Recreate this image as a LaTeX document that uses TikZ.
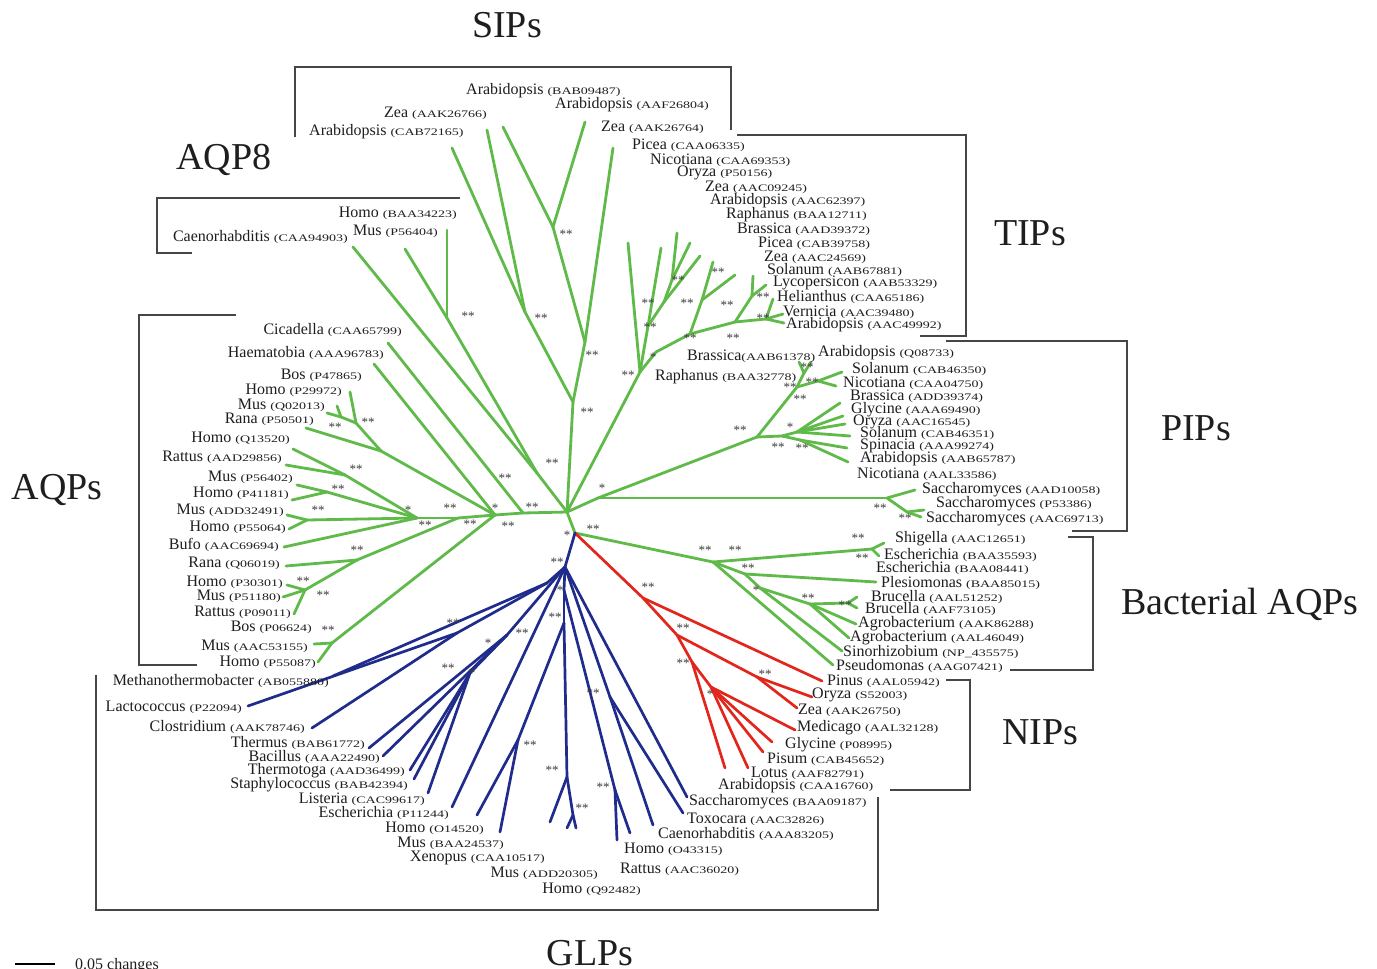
\documentclass[tikz,border=0pt]{standalone}
\usepackage{fontspec}
\setmainfont{Liberation Serif}
\newfontfamily\accf[FakeStretch=1.4]{Liberation Serif}
\newcommand{\acc}[1]{{\accf\fontsize{10}{10}\selectfont #1}}
\definecolor{tg}{RGB}{96,186,74}
\definecolor{tb}{RGB}{32,44,140}
\definecolor{tr}{RGB}{226,38,28}
\definecolor{brc}{RGB}{70,70,70}
\definecolor{txc}{RGB}{30,30,30}
\definecolor{bsc}{RGB}{60,60,60}
\begin{document}
\begin{tikzpicture}[x=1pt,y=-1pt,
  gl/.style={draw=tg,line width=2.8pt,line cap=round,line join=round},
  bl/.style={draw=tb,line width=2.7pt,line cap=round,line join=round},
  rd/.style={draw=tr,line width=2.7pt,line cap=round,line join=round},
  brk/.style={draw=brc,line width=1.6pt},
  lw/.style={anchor=west,inner sep=0pt,text=txc,font=\fontsize{16}{16}\selectfont},
  le/.style={anchor=east,inner sep=0pt,text=txc,font=\fontsize{16}{16}\selectfont},
  bs/.style={inner sep=0pt,text=bsc,font=\fontsize{13}{13}\selectfont},
  ttl/.style={inner sep=0pt,text=txc,font=\fontsize{38}{38}\selectfont}]
\fill[white] (0,0) rectangle (1377,969);
\useasboundingbox (0,0) rectangle (1377,969);

% ---------- coordinates: trunk and SIPs
\coordinate (R) at (567,512);
\coordinate (U1) at (573,402);
\coordinate (U2) at (585,342);
\coordinate (S0) at (525,312);
\coordinate (S1) at (553,227);
\coordinate (tS1) at (452,148);
\coordinate (tS2) at (487,130);
\coordinate (tS3) at (503,127);
\coordinate (tS4) at (585,122);
\coordinate (tS5) at (613,148);
% AQP8
\coordinate (A8) at (537,473);
\coordinate (A8h) at (447,318);
\coordinate (t81) at (353,247);
\coordinate (t82) at (405,249);
\coordinate (t83) at (447,230);
% AQPs
\coordinate (H1) at (523,513);
\coordinate (H2) at (495,515);
\coordinate (H3) at (458,518);
\coordinate (H4) at (417,518);
\coordinate (ta1) at (388,343);
\coordinate (ta2) at (374,364);
\coordinate (B1) at (381,451);
\coordinate (B2) at (356,423);
\coordinate (B3) at (341,417);
\coordinate (ta3) at (350,392);
\coordinate (ta4) at (337,406);
\coordinate (ta5) at (327,413);
\coordinate (ta6) at (306,428);
\coordinate (Rq) at (345,475);
\coordinate (ta7) at (293,449);
\coordinate (ta8) at (286,465);
\coordinate (Pm) at (327,492);
\coordinate (ta9) at (297,485);
\coordinate (ta10) at (292,500);
\coordinate (Pa2) at (307,520);
\coordinate (ta11) at (287,515);
\coordinate (ta12) at (289,529);
\coordinate (ta13) at (284,547);
\coordinate (Nr) at (357,560);
\coordinate (ta14) at (286,566);
\coordinate (Nh) at (305,590);
\coordinate (ta15) at (287,585);
\coordinate (ta16) at (283,597);
\coordinate (ta17) at (294,614);
\coordinate (Nbm) at (332,643);
\coordinate (ta18) at (314,644);
\coordinate (ta19) at (318,662);
% TIPs
\coordinate (T0) at (640,372);
\coordinate (tt1) at (628,243);
\coordinate (Ta) at (648,326);
\coordinate (tt2) at (661,248);
\coordinate (Tb) at (664,302);
\coordinate (Tb2) at (672,280);
\coordinate (tt3) at (677,233);
\coordinate (tt4) at (690,243);
\coordinate (tt5) at (700,256);
\coordinate (T1) at (656,352);
\coordinate (Tc) at (690,334);
\coordinate (Td) at (702,300);
\coordinate (tt6) at (713,262);
\coordinate (tt7) at (735,275);
\coordinate (Te) at (735,322);
\coordinate (Tf) at (752,296);
\coordinate (tt8) at (753,276);
\coordinate (tt9) at (766,285);
\coordinate (Tg) at (766,319);
\coordinate (tt10) at (773,299);
\coordinate (tt11) at (783,314);
\coordinate (tt12) at (784,323);
% PIPs
\coordinate (P0) at (598,498);
\coordinate (Pn) at (757,437);
\coordinate (Pa) at (797,387);
\coordinate (Pb) at (804,373);
\coordinate (tp1) at (799,362);
\coordinate (tp2) at (811,362);
\coordinate (Pc) at (818,381);
\coordinate (tp3) at (842,372);
\coordinate (tp4) at (836,386);
\coordinate (Pd) at (782,436);
\coordinate (Pe) at (797,432);
\coordinate (tp5) at (840,403);
\coordinate (tp6) at (843,416);
\coordinate (tp7) at (845,424);
\coordinate (tp8) at (850,436);
\coordinate (Pf) at (800,440);
\coordinate (tp9) at (847,448);
\coordinate (tp10) at (848,462);
\coordinate (Y0) at (887,498);
\coordinate (ty1) at (915,490);
\coordinate (Y1) at (907,512);
\coordinate (ty2) at (924,510);
\coordinate (ty3) at (921,517);
% bacterial AQPs
\coordinate (G0) at (575,533);
\coordinate (Ba) at (713,562);
\coordinate (Bs) at (872,549);
\coordinate (tb1) at (884,543);
\coordinate (tb2) at (879,556);
\coordinate (Bb) at (745,574);
\coordinate (tb3) at (876,582);
\coordinate (Bc) at (760,588);
\coordinate (Bd) at (810,604);
\coordinate (Be) at (848,603);
\coordinate (tb4) at (857,597);
\coordinate (tb5) at (857,608);
\coordinate (tb6) at (856,624);
\coordinate (tb7) at (849,638);
\coordinate (tb8) at (842,651);
\coordinate (tb9) at (833,665);
% NIPs
\coordinate (Na) at (643,598);
\coordinate (tn1) at (822,681);
\coordinate (Nb2) at (677,635);
\coordinate (Nz) at (757,677);
\coordinate (tn2) at (812,697);
\coordinate (tn3) at (797,708);
\coordinate (Nc) at (692,662);
\coordinate (Nd) at (711,687);
\coordinate (tn4) at (795,730);
\coordinate (tn5) at (772,742);
\coordinate (tn6) at (763,752);
\coordinate (tn7) at (748,768);
\coordinate (tn8) at (725,768);
% GLPs
\coordinate (Ga) at (565,567);
\coordinate (Gm) at (547,583);
\coordinate (tg1) at (333,676);
\coordinate (Gl) at (457,633);
\coordinate (tg2) at (248,706);
\coordinate (tg3) at (312,728);
\coordinate (Gb) at (507,635);
\coordinate (tg4) at (369,748);
\coordinate (tg5) at (383,756);
\coordinate (Gc) at (470,673);
\coordinate (tg6) at (410,770);
\coordinate (tg7) at (414,779);
\coordinate (tg8) at (428,793);
\coordinate (tg9) at (452,807);
\coordinate (Gw) at (564,590);
\coordinate (Gv) at (564,623);
\coordinate (Gh) at (518,740);
\coordinate (tg10) at (477,815);
\coordinate (tg11) at (500,832);
\coordinate (Gx) at (567,777);
\coordinate (tg12) at (550,822);
\coordinate (Gy) at (573,815);
\coordinate (tg13) at (567,828);
\coordinate (tg14) at (576,828);
\coordinate (Go) at (615,790);
\coordinate (tg15) at (617,840);
\coordinate (tg16) at (630,833);
\coordinate (Gt) at (610,697);
\coordinate (tg17) at (653,825);
\coordinate (tg18) at (683,813);
\coordinate (tg19) at (687,797);

% ---------- branches
\foreach \a/\b in {R/U1,U1/U2,U1/S0,U2/S1,U2/tS5,S0/tS1,S0/tS2,S1/tS3,S1/tS4,
  R/A8,A8/t81,A8/A8h,A8h/t82,A8h/t83,
  R/H1,H1/H2,H2/H3,H3/H4,H1/ta1,H2/ta2,H2/B1,B1/B2,B1/ta6,B2/ta3,B2/B3,B3/ta4,B3/ta5,
  H4/Rq,Rq/ta7,Rq/ta8,H4/Pm,Pm/ta9,Pm/ta10,H4/Pa2,Pa2/ta11,Pa2/ta12,H4/ta13,
  H3/Nr,Nr/ta14,Nr/Nh,Nh/ta15,Nh/ta16,Nh/ta17,H2/Nbm,Nbm/ta18,Nbm/ta19,
  R/T0,T0/tt1,T0/Ta,Ta/tt2,Ta/Tb,Tb/Tb2,Tb2/tt3,Tb2/tt4,Tb/tt5,T0/T1,T1/Tc,Tc/Td,Td/tt6,Td/tt7,
  Tc/Te,Te/Tf,Tf/tt8,Tf/tt9,Te/Tg,Tg/tt10,Tg/tt11,Tg/tt12,
  R/P0,P0/Pn,Pn/Pa,Pa/Pb,Pb/tp1,Pb/tp2,Pa/Pc,Pc/tp3,Pc/tp4,Pn/Pd,Pd/Pe,Pe/tp5,Pe/tp6,Pe/tp7,Pe/tp8,
  Pd/Pf,Pf/tp9,Pf/tp10,P0/Y0,Y0/ty1,Y0/Y1,Y1/ty2,Y1/ty3,
  R/G0,G0/Ba,Ba/Bs,Bs/tb1,Bs/tb2,Ba/Bb,Bb/tb3,Bb/Bc,Bc/Bd,Bd/Be,Be/tb4,Be/tb5,Bd/tb6,Bd/tb7,Bc/tb8,Ba/tb9}
  \draw[gl] (\a) -- (\b);
\foreach \a/\b in {G0/Na,Na/tn1,Na/Nb2,Nb2/Nz,Nz/tn2,Nz/tn3,Nb2/Nc,Nc/Nd,Nd/tn4,Nd/tn5,Nd/tn6,Nd/tn7,Nc/tn8}
  \draw[rd] (\a) -- (\b);
\foreach \a/\b in {G0/Ga,Ga/Gm,Gm/tg1,Gm/Gl,Gl/tg2,Gl/tg3,Ga/Gb,Gb/tg4,Gb/tg5,Gb/Gc,Gc/tg6,Gc/tg7,Gc/tg8,
  Ga/tg9,Ga/Gw,Gw/Gv,Gv/Gh,Gh/tg10,Gh/tg11,Gv/Gx,Gx/tg12,Gx/Gy,Gy/tg13,Gy/tg14,Gw/Go,Go/tg15,Go/tg16,
  Ga/Gt,Gt/tg17,Gt/tg18,Ga/tg19}
  \draw[bl] (\a) -- (\b);

% ---------- brackets
\draw[brk] (295,137) -- (295,67) -- (731,67) -- (731,130);
\draw[brk] (460,198) -- (157,198) -- (157,253) -- (192,253);
\draw[brk] (737,135) -- (966,135) -- (966,336) -- (920,336);
\draw[brk] (946,341) -- (1127,341) -- (1127,531) -- (1072,531);
\draw[brk] (1068,537) -- (1093,537) -- (1093,670) -- (1010,670);
\draw[brk] (946,680) -- (970,680) -- (970,790) -- (890,790);
\draw[brk] (236,315) -- (139,315) -- (139,665) -- (197,665);
\draw[brk] (96,675) -- (96,910) -- (878,910) -- (878,797);

% ---------- group titles
\node[ttl] (nSIP) at (507,25) {SIPs};
\node[ttl] (nAQP8) at (224,160) {AQP8};
\node[ttl] (nTIP) at (1030,233) {TIPs};
\node[ttl] (nPIP) at (1196,428) {PIPs};
\node[ttl] (nAQP) at (57,490) {AQPs};
\node[ttl] (nBAC) at (1240,604) {Bacterial AQPs};
\node[ttl] (nNIP) at (1040,732) {NIPs};
\node[ttl] (nGLP) at (590,953) {GLPs};

% ---------- scale bar
\coordinate (sb1) at (15,964);
\coordinate (sb2) at (55,964);
\draw[draw=black,line width=1.6pt] (sb1) -- (sb2);
\node[lw] (sbl) at (75,966) {0.05 changes};

% ---------- SIP labels
\node[lw] (s1) at (466,91) {Arabidopsis \acc{(BAB09487)}};
\node[lw] (s2) at (555,105) {Arabidopsis \acc{(AAF26804)}};
\node[lw] (s3) at (384,113) {Zea \acc{(AAK26766)}};
\node[lw] (s4) at (309,132) {Arabidopsis \acc{(CAB72165)}};
\node[lw] (s5) at (601,127) {Zea \acc{(AAK26764)}};
% AQP8 labels
\node[le] (q1) at (457,213) {Homo \acc{(BAA34223)}};
\node[le] (q2) at (438,231) {Mus \acc{(P56404)}};
\node[le] (q3) at (348,237) {Caenorhabditis \acc{(CAA94903)}};
% TIP labels
\node[lw] (p1) at (632,145) {Picea \acc{(CAA06335)}};
\node[lw] (p2) at (650,160) {Nicotiana \acc{(CAA69353)}};
\node[lw] (p3) at (677,173) {Oryza \acc{(P50156)}};
\node[lw] (p4) at (705,187) {Zea \acc{(AAC09245)}};
\node[lw] (p5) at (710,201) {Arabidopsis \acc{(AAC62397)}};
\node[lw] (p6) at (726,215) {Raphanus \acc{(BAA12711)}};
\node[lw] (p7) at (737,229) {Brassica \acc{(AAD39372)}};
\node[lw] (p8) at (758,243) {Picea \acc{(CAB39758)}};
\node[lw] (p9) at (764,257) {Zea \acc{(AAC24569)}};
\node[lw] (p10) at (767,270) {Solanum \acc{(AAB67881)}};
\node[lw] (p11) at (773,283) {Lycopersicon \acc{(AAB53329)}};
\node[lw] (p12) at (777,297) {Helianthus \acc{(CAA65186)}};
\node[lw] (p13) at (783,312) {Vernicia \acc{(AAC39480)}};
\node[lw] (p14) at (786,325) {Arabidopsis \acc{(AAC49992)}};
% PIP labels
\node[lw] (r1) at (687,356) {Brassica\acc{(AAB61378)}};
\node[lw] (r2) at (818,353) {Arabidopsis \acc{(Q08733)}};
\node[lw] (r3) at (655,377) {Raphanus \acc{(BAA32778)}};
\node[lw] (r4) at (852,369) {Solanum \acc{(CAB46350)}};
\node[lw] (r5) at (843,383) {Nicotiana \acc{(CAA04750)}};
\node[lw] (r6) at (850,396) {Brassica \acc{(ADD39374)}};
\node[lw] (r7) at (851,410) {Glycine \acc{(AAA69490)}};
\node[lw] (r8) at (853,422) {Oryza \acc{(AAC16545)}};
\node[lw] (r9) at (860,433) {Solanum \acc{(CAB46351)}};
\node[lw] (r10) at (860,446) {Spinacia \acc{(AAA99274)}};
\node[lw] (r11) at (860,459) {Arabidopsis \acc{(AAB65787)}};
\node[lw] (r12) at (857,474) {Nicotiana \acc{(AAL33586)}};
\node[lw] (r13) at (922,490) {Saccharomyces \acc{(AAD10058)}};
\node[lw] (r14) at (936,504) {Saccharomyces \acc{(P53386)}};
\node[lw] (r15) at (926,519) {Saccharomyces \acc{(AAC69713)}};
% bacterial labels
\node[lw] (b1) at (895,539) {Shigella \acc{(AAC12651)}};
\node[lw] (b2) at (884,555) {Escherichia \acc{(BAA35593)}};
\node[lw] (b3) at (876,568) {Escherichia \acc{(BAA08441)}};
\node[lw] (b4) at (881,583) {Plesiomonas \acc{(BAA85015)}};
\node[lw] (b5) at (871,597) {Brucella \acc{(AAL51252)}};
\node[lw] (b6) at (865,609) {Brucella \acc{(AAF73105)}};
\node[lw] (b7) at (858,624) {Agrobacterium \acc{(AAK86288)}};
\node[lw] (b8) at (850,638) {Agrobacterium \acc{(AAL46049)}};
\node[lw] (b9) at (843,652) {Sinorhizobium \acc{(NP\_435575)}};
\node[lw] (b10) at (836,666) {Pseudomonas \acc{(AAG07421)}};
% NIP labels
\node[lw] (n1) at (827,681) {Pinus \acc{(AAL05942)}};
\node[lw] (n2) at (812,695) {Oryza \acc{(S52003)}};
\node[lw] (n3) at (798,710) {Zea \acc{(AAK26750)}};
\node[lw] (n4) at (797,728) {Medicago \acc{(AAL32128)}};
\node[lw] (n5) at (785,745) {Glycine \acc{(P08995)}};
\node[lw] (n6) at (767,759) {Pisum \acc{(CAB45652)}};
\node[lw] (n7) at (751,773) {Lotus \acc{(AAF82791)}};
\node[lw] (n8) at (718,786) {Arabidopsis \acc{(CAA16760)}};
% AQP labels
\node[le] (a1) at (402,330) {Cicadella \acc{(CAA65799)}};
\node[le] (a2) at (384,353) {Haematobia \acc{(AAA96783)}};
\node[le] (a3) at (362,375) {Bos \acc{(P47865)}};
\node[le] (a4) at (342,390) {Homo \acc{(P29972)}};
\node[le] (a5) at (325,405) {Mus \acc{(Q02013)}};
\node[le] (a6) at (314,419) {Rana \acc{(P50501)}};
\node[le] (a7) at (290,438) {Homo \acc{(Q13520)}};
\node[le] (a8) at (282,457) {Rattus \acc{(AAD29856)}};
\node[le] (a9) at (293,477) {Mus \acc{(P56402)}};
\node[le] (a10) at (289,493) {Homo \acc{(P41181)}};
\node[le] (a11) at (284,510) {Mus \acc{(ADD32491)}};
\node[le] (a12) at (286,527) {Homo \acc{(P55064)}};
\node[le] (a13) at (279,545) {Bufo \acc{(AAC69694)}};
\node[le] (a14) at (280,563) {Rana \acc{(Q06019)}};
\node[le] (a15) at (283,582) {Homo \acc{(P30301)}};
\node[le] (a16) at (281,596) {Mus \acc{(P51180)}};
\node[le] (a17) at (291,612) {Rattus \acc{(P09011)}};
\node[le] (a18) at (312,627) {Bos \acc{(P06624)}};
\node[le] (a19) at (308,646) {Mus \acc{(AAC53155)}};
\node[le] (a20) at (316,662) {Homo \acc{(P55087)}};
% GLP labels
\node[le] (g1) at (329,681) {Methanothermobacter \acc{(AB055880)}};
\node[le] (g2) at (242,707) {Lactococcus \acc{(P22094)}};
\node[le] (g3) at (305,727) {Clostridium \acc{(AAK78746)}};
\node[le] (g4) at (365,743) {Thermus \acc{(BAB61772)}};
\node[le] (g5) at (380,757) {Bacillus \acc{(AAA22490)}};
\node[le] (g6) at (405,771) {Thermotoga \acc{(AAD36499)}};
\node[le] (g7) at (408,785) {Staphylococcus \acc{(BAB42394)}};
\node[le] (g8) at (425,799) {Listeria \acc{(CAC99617)}};
\node[le] (g9) at (449,813) {Escherichia \acc{(P11244)}};
\node[le] (g10) at (484,828) {Homo \acc{(O14520)}};
\node[le] (g11) at (504,843) {Mus \acc{(BAA24537)}};
\node[le] (g12) at (545,858) {Xenopus \acc{(CAA10517)}};
\node[le] (g13) at (598,873) {Mus \acc{(ADD20305)}};
\node[le] (g14) at (641,889) {Homo \acc{(Q92482)}};
\node[lw] (g15) at (620,869) {Rattus \acc{(AAC36020)}};
\node[lw] (g16) at (624,849) {Homo \acc{(O43315)}};
\node[lw] (g17) at (658,834) {Caenorhabditis \acc{(AAA83205)}};
\node[lw] (g18) at (687,819) {Toxocara \acc{(AAC32826)}};
\node[lw] (g19) at (689,802) {Saccharomyces \acc{(BAA09187)}};

% ---------- bootstrap marks
\foreach \x/\y/\s [count=\i] in {587/412/**,592/355/**,541/318/**,566/234/**,468/316/**,552/463/**,505/478/**,
  368/422/**,335/427/**,356/469/**,338/489/**,318/510/**,408/510/*,450/508/**,495/508/*,532/507/**,
  425/525/**,470/524/**,508/526/**,357/550/**,303/581/**,323/595/**,328/630/**,
  628/375/**,653/357/*,650/327/**,648/303/**,678/280/**,687/303/**,718/272/**,727/305/**,690/338/**,
  733/338/**,763/297/**,763/318/**,
  602/488/*,740/430/**,800/399/**,807/367/**,790/387/**,812/382/**,790/427/*,778/447/**,802/448/**,
  880/508/**,905/518/**,
  567/535/*,593/529/**,705/550/**,735/550/**,858/538/**,862/558/**,748/568/**,756/590/*,808/598/**,845/605/**,
  648/587/**,683/628/**,765/674/**,683/663/**,710/694/*,
  557/562/**,453/623/**,522/633/**,488/643/*,472/673/*,448/668/**,555/617/**,560/590/*,530/745/**,
  552/770/**,582/808/**,603/787/**,593/693/**}
  \node[bs] (m\i) at (\x,\y) {\s};
\end{tikzpicture}
\end{document}
